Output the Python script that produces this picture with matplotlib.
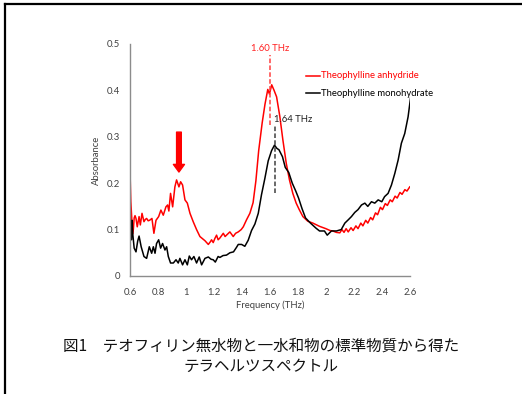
import matplotlib
matplotlib.use("Agg")
from matplotlib import pyplot as plt
from matplotlib.lines import Line2D

plt.rcParams['font.family'] = ['Lato', 'DejaVu Sans']

# anhydride (red) spectrum
red_f = [0.600, 0.606, 0.612, 0.618, 0.624, 0.630, 0.636, 0.643, 0.652, 0.665,
         0.674, 0.686, 0.700, 0.710, 0.719, 0.730, 0.740, 0.757, 0.771, 0.786,
         0.805, 0.821, 0.838, 0.857, 0.869, 0.878, 0.890, 0.905, 0.921, 0.933,
         0.950, 0.962, 0.976, 0.993, 1.010, 1.029, 1.052, 1.076, 1.100, 1.136,
         1.160, 1.175, 1.183, 1.195, 1.207, 1.219, 1.230, 1.243, 1.267, 1.280,
         1.290, 1.314, 1.338, 1.355, 1.374, 1.395, 1.410, 1.433, 1.457, 1.480,
         1.500, 1.520, 1.545, 1.565, 1.585, 1.597, 1.613, 1.630, 1.648, 1.671,
         1.693, 1.717, 1.740, 1.764, 1.788, 1.810, 1.836, 1.871, 1.907, 1.955,
         2.000, 2.030, 2.050, 2.075, 2.100, 2.115, 2.130, 2.145, 2.160, 2.180,
         2.195, 2.215, 2.230, 2.250, 2.265, 2.285, 2.300, 2.320, 2.335, 2.355,
         2.370, 2.390, 2.405, 2.425, 2.440, 2.460, 2.475, 2.495, 2.510, 2.530,
         2.545, 2.565, 2.580, 2.600]
red_a = [0.228, 0.160, 0.128, 0.090, 0.100, 0.125, 0.130, 0.124, 0.106, 0.128,
         0.110, 0.135, 0.117, 0.122, 0.124, 0.119, 0.120, 0.124, 0.092, 0.120,
         0.128, 0.142, 0.131, 0.149, 0.153, 0.140, 0.178, 0.149, 0.192, 0.207,
         0.192, 0.203, 0.196, 0.164, 0.157, 0.135, 0.117, 0.100, 0.085, 0.076,
         0.068, 0.074, 0.078, 0.072, 0.081, 0.088, 0.078, 0.082, 0.092, 0.085,
         0.088, 0.095, 0.085, 0.092, 0.095, 0.100, 0.106, 0.121, 0.135, 0.158,
         0.205, 0.270, 0.330, 0.370, 0.402, 0.392, 0.412, 0.400, 0.386, 0.344,
         0.293, 0.243, 0.207, 0.178, 0.157, 0.143, 0.128, 0.118, 0.114, 0.107,
         0.102, 0.098, 0.097, 0.094, 0.093, 0.100, 0.094, 0.102, 0.095, 0.104,
         0.098, 0.108, 0.102, 0.114, 0.108, 0.120, 0.114, 0.126, 0.121, 0.136,
         0.132, 0.148, 0.143, 0.156, 0.152, 0.164, 0.160, 0.172, 0.168, 0.180,
         0.176, 0.186, 0.183, 0.192]

# monohydrate (black) spectrum
blk_f = [0.600, 0.605, 0.610, 0.615, 0.620, 0.630, 0.643, 0.655, 0.665, 0.680,
         0.700, 0.719, 0.738, 0.755, 0.767, 0.779, 0.790, 0.805, 0.819, 0.833,
         0.850, 0.862, 0.874, 0.890, 0.910, 0.929, 0.945, 0.957, 0.976, 0.993,
         1.010, 1.024, 1.040, 1.057, 1.076, 1.095, 1.112, 1.136, 1.160, 1.180,
         1.195, 1.210, 1.230, 1.243, 1.265, 1.290, 1.314, 1.340, 1.362, 1.374,
         1.398, 1.421, 1.445, 1.469, 1.493, 1.517, 1.540, 1.564, 1.588, 1.612,
         1.633, 1.650, 1.665, 1.690, 1.710, 1.735, 1.760, 1.785, 1.805, 1.830,
         1.855, 1.890, 1.930, 1.955, 1.990, 2.010, 2.040, 2.076, 2.110, 2.136,
         2.160, 2.183, 2.207, 2.230, 2.255, 2.279, 2.300, 2.326, 2.350, 2.374,
         2.400, 2.420, 2.445, 2.469, 2.493, 2.517, 2.540, 2.564, 2.588, 2.607]
blk_a = [0.078, 0.120, 0.078, 0.120, 0.090, 0.060, 0.052, 0.075, 0.086, 0.063,
         0.042, 0.038, 0.063, 0.049, 0.063, 0.049, 0.070, 0.078, 0.060, 0.070,
         0.056, 0.063, 0.042, 0.028, 0.028, 0.035, 0.028, 0.038, 0.024, 0.035,
         0.024, 0.043, 0.035, 0.042, 0.028, 0.041, 0.024, 0.038, 0.041, 0.036,
         0.035, 0.030, 0.042, 0.040, 0.044, 0.045, 0.050, 0.052, 0.062, 0.068,
         0.068, 0.064, 0.077, 0.098, 0.112, 0.135, 0.175, 0.210, 0.248, 0.270,
         0.282, 0.275, 0.272, 0.257, 0.234, 0.223, 0.200, 0.183, 0.168, 0.145,
         0.125, 0.114, 0.103, 0.097, 0.097, 0.088, 0.097, 0.097, 0.100, 0.114,
         0.121, 0.128, 0.137, 0.143, 0.153, 0.157, 0.150, 0.160, 0.157, 0.164,
         0.160, 0.171, 0.178, 0.196, 0.221, 0.250, 0.286, 0.307, 0.343, 0.387]

x_ticks = [0.6, 0.8, 1.0, 1.2, 1.4, 1.6, 1.8, 2.0, 2.2, 2.4, 2.6]
x_labels = ["0.6", "0.8", "1", "1.2", "1.4", "1.6", "1.8", "2", "2.2", "2.4", "2.6"]
y_ticks = [0, 0.1, 0.2, 0.3, 0.4, 0.5]
y_labels = ["0", "0.1", "0.2", "0.3", "0.4", "0.5"]

red_peak, blk_peak = 1.60, 1.64
caption = "図1　テオフィリン無水物と一水和物の標準物質から得た\nテラヘルツスペクトル"

fig = plt.figure(figsize=(5.22, 3.94), dpi=100)
ax = fig.add_axes([0.249, 0.2995, 0.536, 0.589])

ax.plot(red_f, red_a, color="#ff0000", lw=1.1)
ax.plot(blk_f, blk_a, color="black", lw=1.1)

ax.set_xlim(0.6, 2.6)
ax.set_ylim(0, 0.5)
ax.set_xticks(x_ticks, x_labels)
ax.set_yticks(y_ticks, y_labels)
ax.tick_params(length=0, labelsize=6.8, colors="#404040", pad=7)
ax.tick_params(axis="x", pad=9)
for s in ["top", "right"]:
    ax.spines[s].set_visible(False)
for s in ["left", "bottom"]:
    ax.spines[s].set_color("#8c8c8c")
    ax.spines[s].set_linewidth(1.0)

ax.set_xlabel("Frequency (THz)", fontsize=6.8, color="#404040", labelpad=2)
ax.set_ylabel("Absorbance", fontsize=6.8, color="#404040", labelpad=4)

# peak markers
ax.plot([red_peak, red_peak], [0.325, 0.476], ls=(0, (3, 1.5)), color="#ff4040", lw=1.1)
ax.text(red_peak, 0.49, "%.2f THz" % red_peak, color="#ff2020", fontsize=6.8,
        ha="center", va="center")
ax.plot([blk_peak, blk_peak], [0.179, 0.325], ls=(0, (3, 1.5)), color="#404040", lw=1.1)
ax.text(blk_peak - 0.01, 0.338, "%.2f THz" % blk_peak, color="#202020", fontsize=6.8,
        ha="left", va="center")

# arrow pointing at the 0.95 THz band
ax.annotate("", xy=(0.95, 0.224), xytext=(0.95, 0.31),
            arrowprops=dict(facecolor="#ff0000", edgecolor="#ff0000",
                            width=3.4, headwidth=8, headlength=5.5, shrink=0))

# legend drawn by hand, Excel style
ax.plot([1.86, 1.96], [0.431, 0.431], color="#ff0000", lw=1.1, clip_on=False)
ax.text(1.965, 0.431, "Theophylline anhydride", color="#ff0000", fontsize=6.8, va="center")
ax.plot([1.86, 1.96], [0.394, 0.394], color="black", lw=1.1, clip_on=False)
ax.text(1.965, 0.394, "Theophylline monohydrate", color="black", fontsize=6.8, va="center")

fig.text(0.5, 0.096, caption, ha="center", va="center", fontsize=11.2,
         linespacing=1.22, family=["Noto Sans CJK JP", "DejaVu Sans"], color="#111111")

# frame edges visible at the left and top of the picture
fig.add_artist(Line2D([0.0105, 0.0105], [0, 0.991], color="black", lw=1.6))
fig.add_artist(Line2D([0.0105, 1], [0.991, 0.991], color="black", lw=1.6))

fig.savefig("out.png", dpi=100)
